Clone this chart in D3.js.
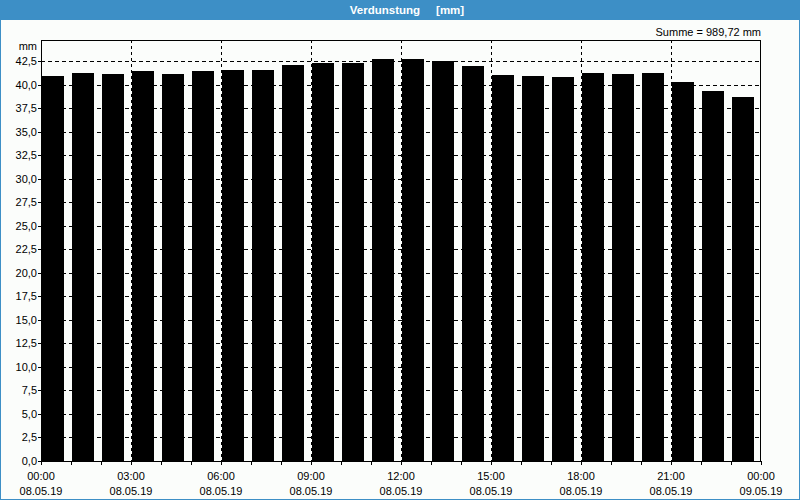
<!DOCTYPE html>
<html><head><meta charset="utf-8">
<script src="https://cdn.jsdelivr.net/npm/d3@7"></script>
<style>html,body{margin:0;padding:0;background:#fff;}svg{display:block;}</style>
</head><body>
<svg id="c" width="800" height="500"></svg>
<script>
const title = "Verdunstung     [mm]";
const unitLabel = "mm";
const sumLabel = "Summe = 989,72 mm";
const hours = d3.range(0, 24);
const values = [40.90, 41.22, 41.15, 41.44, 41.12, 41.44, 41.54, 41.54, 42.07, 42.29, 42.29, 42.71,
                42.71, 42.50, 41.97, 41.01, 40.90, 40.80, 41.22, 41.12, 41.22, 40.25, 39.29, 38.65];
const yTicks = d3.range(0, 42.51, 2.5);
const xTickHours = [0, 3, 6, 9, 12, 15, 18, 21, 24];
const xTimeLabels = ["00:00","03:00","06:00","09:00","12:00","15:00","18:00","21:00","00:00"];
const xDateLabels = ["08.05.19","08.05.19","08.05.19","08.05.19","08.05.19","08.05.19","08.05.19","08.05.19","09.05.19"];

const svg = d3.select("#c");
const W = 800, H = 500;
const L = 41, R = 761, T = 40, B = 461;
const font = "Tahoma, 'Liberation Sans', Arial, sans-serif";

// background and border
svg.append("rect").attr("x",0).attr("y",0).attr("width",W).attr("height",H).attr("fill","#3d8fc6");
svg.append("rect").attr("x",1).attr("y",20).attr("width",W-2).attr("height",H-21).attr("fill","#fbfdfb");
svg.append("text").attr("x",407).attr("y",14).attr("text-anchor","middle")
  .attr("fill","#fff").attr("font-family",font).attr("font-weight","bold").attr("font-size",11.5)
  .attr("xml:space","preserve").style("white-space","pre").text(title);

const x = d3.scaleLinear().domain([0,24]).range([L, R]);
const y = d3.scaleLinear().domain([0, (B-T)/(400/42.5)]).range([B, T]);

// horizontal grid
svg.append("g").selectAll("line").data(yTicks.filter(d=>d>0)).join("line")
  .attr("x1",L).attr("x2",R-1).attr("y1",d=>Math.round(y(d))+0.5).attr("y2",d=>Math.round(y(d))+0.5)
  .attr("stroke","#000").attr("stroke-width",1).attr("stroke-dasharray","4,3");
// vertical grid
svg.append("g").selectAll("line").data(xTickHours.filter(d=>d>0&&d<24)).join("line")
  .attr("x1",d=>Math.round(x(d))+0.5).attr("x2",d=>Math.round(x(d))+0.5).attr("y1",T).attr("y2",B)
  .attr("stroke","#000").attr("stroke-width",1).attr("stroke-dasharray","3,3");

// bars
const slot = x(1)-x(0);
svg.append("g").selectAll("rect").data(values).join("rect")
  .attr("x",(d,i)=>Math.round(x(hours[i]))+1)
  .attr("width",Math.round(slot*0.74))
  .attr("y",d=>Math.round(y(d)))
  .attr("height",d=>B-Math.round(y(d)))
  .attr("fill","#000");

// frame
svg.append("rect").attr("x",L+0.5).attr("y",T+0.5).attr("width",R-L-1).attr("height",B-T)
  .attr("fill","none").attr("stroke","#000").attr("stroke-width",1);

// y ticks & labels
const gy = svg.append("g");
gy.selectAll("line").data(yTicks).join("line")
  .attr("x1",L-3).attr("x2",L).attr("y1",d=>Math.round(y(d))+0.5).attr("y2",d=>Math.round(y(d))+0.5)
  .attr("stroke","#000");
gy.selectAll("text").data(yTicks).join("text")
  .attr("x",37).attr("y",d=>Math.round(y(d))+4).attr("text-anchor","end")
  .attr("font-family",font).attr("font-size",11).attr("fill","#000")
  .text(d=>d3.format(".1f")(d).replace(".",","));
svg.append("text").attr("x",37).attr("y",50).attr("text-anchor","end")
  .attr("font-family",font).attr("font-size",11).attr("fill","#000").text(unitLabel);

// x ticks
svg.append("g").selectAll("line").data(d3.range(0,25)).join("line")
  .attr("x1",d=>Math.round(x(d))+0.5).attr("x2",d=>Math.round(x(d))+0.5).attr("y1",B).attr("y2",B+4)
  .attr("stroke","#000");
const gx = svg.append("g");
gx.selectAll("text.t").data(xTickHours).join("text").attr("class","t")
  .attr("x",d=>Math.round(x(d))).attr("y",480).attr("text-anchor","middle")
  .attr("font-family",font).attr("font-size",11).attr("fill","#000")
  .text((d,i)=>xTimeLabels[i]);
gx.selectAll("text.d").data(xTickHours).join("text").attr("class","d")
  .attr("x",d=>Math.round(x(d))).attr("y",495).attr("text-anchor","middle")
  .attr("font-family",font).attr("font-size",11).attr("fill","#000")
  .text((d,i)=>xDateLabels[i]);

svg.append("text").attr("x",761).attr("y",36).attr("text-anchor","end")
  .attr("font-family",font).attr("font-size",11).attr("fill","#000").text(sumLabel);
</script>
</body></html>
